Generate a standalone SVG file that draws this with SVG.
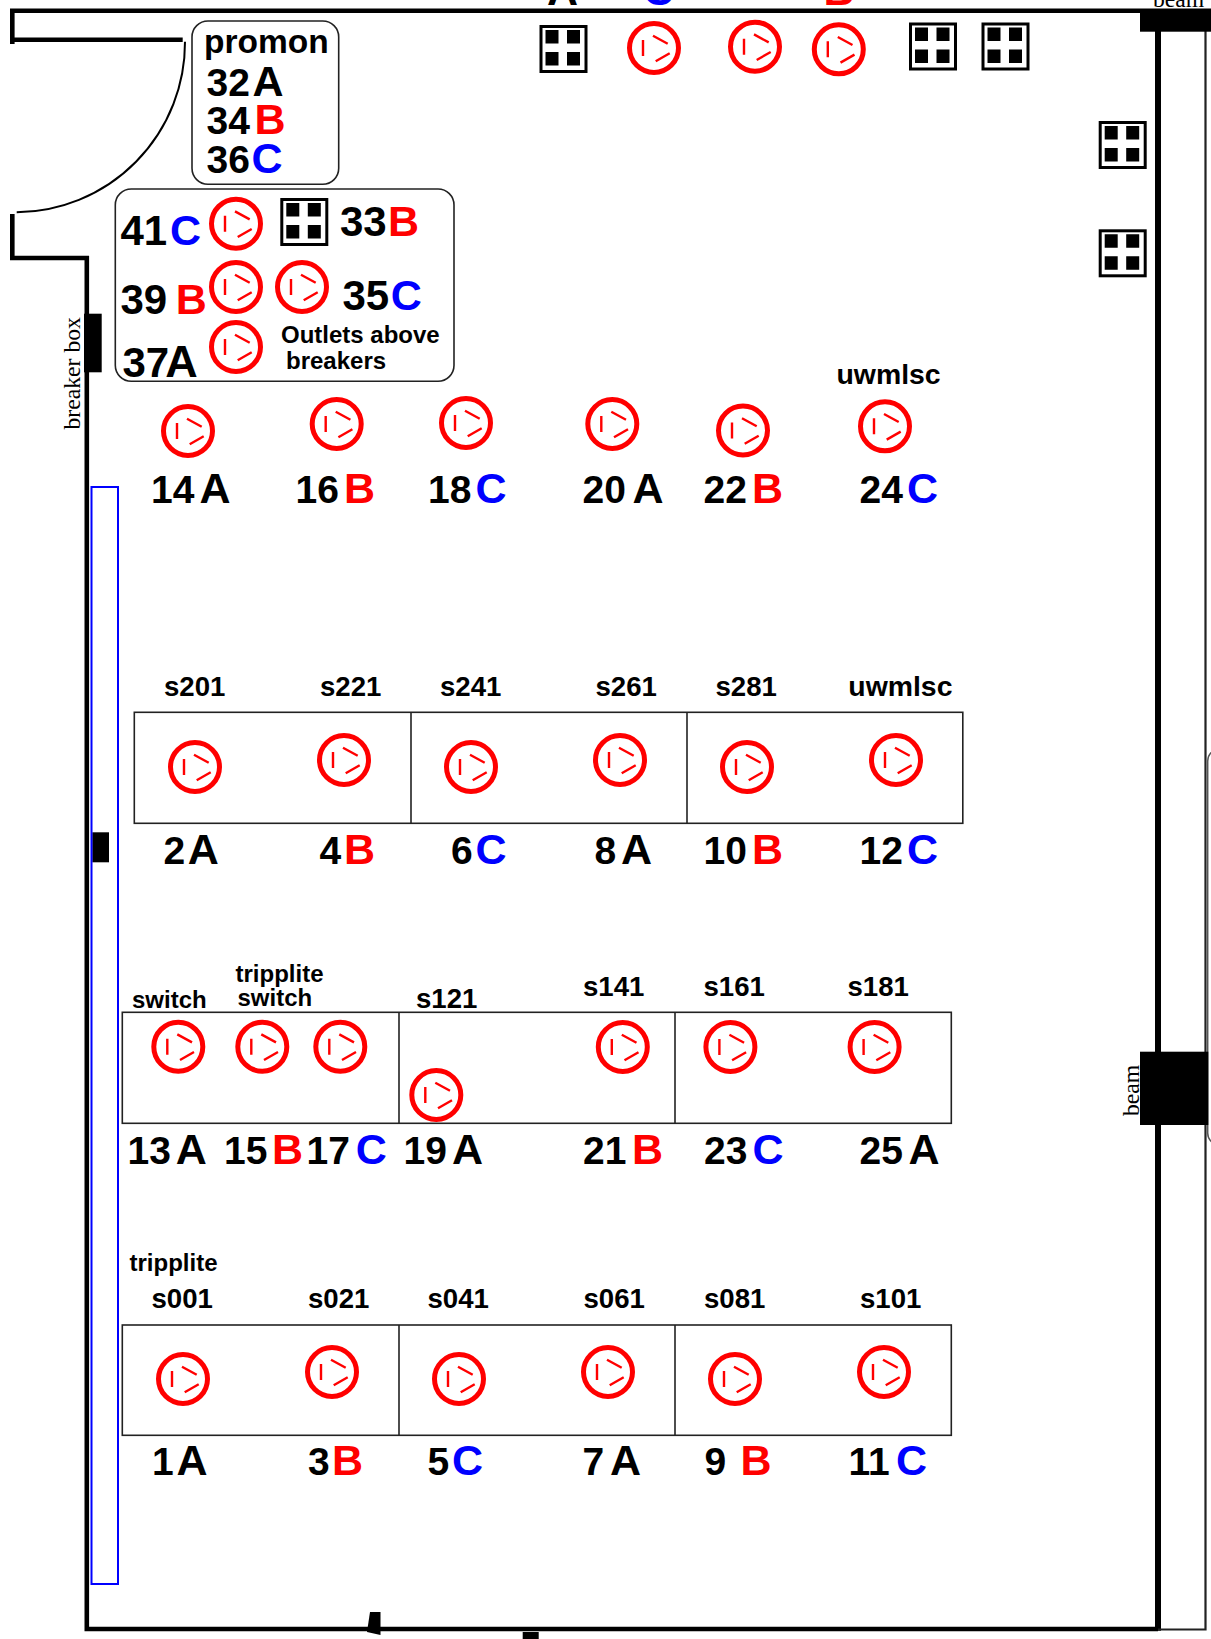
<svg xmlns="http://www.w3.org/2000/svg" width="1211" height="1639" viewBox="0 0 1211 1639">
<style>
text{font-family:"Liberation Sans",Arial,sans-serif;font-weight:bold;fill:#000}
.n{font-size:39px}
.m{font-size:42px}
.l{font-size:43px}
.s{font-size:27.6px}
.u{font-size:28.4px}
.t{font-size:24px}
.b{fill:#f00}
.c{fill:#00f}
.serif{font-family:"Liberation Serif","Times New Roman",serif;font-weight:normal;font-size:23.7px}
.wall{fill:none;stroke:#000;stroke-width:4.6}
.thin{fill:none;stroke:#222;stroke-width:1.6}
</style>
<defs>
<g id="o" fill="none" stroke="#f00">
<circle r="24.5" stroke-width="5" fill="#fff"/>
<path d="M-11-8V8M-1-12.3L13.7-4.3M1.7 13.3L15.7 5.3" stroke-width="2.4"/>
</g>
<g id="q">
<rect x="1.500" y="1.500" width="45" height="45" fill="#fff" stroke="#000" stroke-width="3"/>
<path d="M6 5h13v13.500H6zM27.500 5h13v13.500H27.500zM6 27h13v13.500H6zM27.500 27h13v13.500H27.500z" fill="#000"/>
</g>
</defs>
<rect width="1211" height="1639" fill="#fff"/>
<g id="walls">
<path class="wall" d="M12.300 44V10.800H1211"/>
<path class="wall" d="M14 39.700H182.700"/>
<path d="M185 41.700A170 170 0 0 1 16.700 212.300" fill="none" stroke="#000" stroke-width="2"/>
<path class="wall" d="M12.300 214V258H86.800V1629H1158"/>
<path d="M1158 31V1630.700" fill="none" stroke="#000" stroke-width="6"/>
<path d="M1205.500 30V1629.500H1158" fill="none" stroke="#222" stroke-width="2.200"/>
<rect x="1207.700" y="749" width="60" height="396" rx="12" fill="none" stroke="#555" stroke-width="1.500"/>
<rect x="1140" y="13" width="71" height="18.700" fill="#000"/>
<rect x="1140" y="1051.700" width="68.300" height="73.300" fill="#000"/>
<rect x="84" y="313.700" width="17.700" height="58.600" fill="#000"/>
<rect x="92.300" y="832.300" width="16.700" height="30" fill="#000"/>
<rect x="91.500" y="487" width="26.500" height="1097" fill="none" stroke="#00f" stroke-width="2"/>
<path d="M370 1612H380.500L380.500 1635L367 1632Z" fill="#000"/>
<rect x="522.700" y="1632" width="16" height="7" fill="#000"/>
<text class="serif" transform="translate(80 429.500) rotate(-90)">breaker box</text>
<text class="serif" transform="translate(1139 1116) rotate(-90)">beam</text>
<text class="serif" x="1153" y="7">beam</text>
</g>
<g id="tables" class="thin">
<rect x="134.300" y="712.300" width="828.500" height="111"/><path d="M411 712.300V823.300M687 712.300V823.300"/>
<rect x="122.300" y="1012.300" width="829" height="111"/><path d="M399 1012.300V1123.300M675 1012.300V1123.300"/>
<rect x="122.300" y="1325" width="829" height="110.300"/><path d="M399 1325V1435.300M675 1325V1435.300"/>
</g>
<g id="panels" class="thin">
<rect x="192" y="21" width="146.700" height="163.300" rx="16"/>
<rect x="115.300" y="189" width="338.700" height="192.300" rx="16"/>
</g>
<g id="quads">
<use href="#q" x="539.500" y="25"/><use href="#q" x="909" y="22.500"/><use href="#q" x="981.500" y="22.500"/>
<use href="#q" x="1098.700" y="121"/><use href="#q" x="1098.700" y="229.300"/><use href="#q" x="280.300" y="198"/>
</g>
<g id="top-row">
<use href="#o" x="654" y="48"/><use href="#o" x="755" y="46.700"/><use href="#o" x="838.800" y="49.300"/>
<text class="l" x="547" y="5">A</text><text class="l c" x="643" y="5">C</text><text class="l b" x="823.500" y="5">B</text>
</g>
<g id="promon">
<text x="204" y="53" style="font-size:33.500px">promon</text>
<text class="n" x="206.500" y="96">32</text><text class="l" x="252.500" y="96">A</text>
<text class="n" x="206.500" y="134.300">34</text><text class="l b" x="254.500" y="134.300">B</text>
<text class="n" x="206.500" y="173.300">36</text><text class="l c" x="251.500" y="173.300">C</text>
</g>
<g id="outlets-above">
<g id="o41"><use href="#o" x="236" y="223.700"/><text class="m" x="120.500" y="245">41</text><text class="l c" x="170" y="245">C</text></g>
<g id="o39"><use href="#o" x="236" y="287"/><text class="m" x="120.500" y="313.700">39</text><text class="l b" x="175.800" y="313.700">B</text></g>
<g id="o37"><use href="#o" x="236" y="347"/><text class="m" x="122.500" y="376.700">37</text><text style="font-size:45px" x="165.200" y="376.700">A</text></g>
<g id="o35"><use href="#o" x="302" y="287"/><text class="m" x="342.500" y="310">35</text><text class="l c" x="390.800" y="310">C</text></g>
<text class="m" id="o33" x="340" y="236">33</text><text class="l b" x="388" y="236">B</text>
<text class="t" x="281" y="343">Outlets above</text>
<text class="t" x="286" y="369">breakers</text>
</g>
<g id="row-24">
<g id="o14"><use href="#o" x="188" y="431"/><text class="n" x="151" y="503">14</text><text class="l" x="199.500" y="503">A</text></g>
<g id="o16"><use href="#o" x="336.700" y="424"/><text class="n" x="295.500" y="503">16</text><text class="l b" x="344" y="503">B</text></g>
<g id="o18"><use href="#o" x="466" y="423"/><text class="n" x="428" y="503">18</text><text class="l c" x="475.500" y="503">C</text></g>
<g id="o20"><use href="#o" x="612.300" y="424"/><text class="n" x="582.500" y="503">20</text><text class="l" x="632.500" y="503">A</text></g>
<g id="o22"><use href="#o" x="743" y="430.500"/><text class="n" x="703.500" y="503">22</text><text class="l b" x="752" y="503">B</text></g>
<g id="o24"><use href="#o" x="885" y="426.300"/><text class="n" x="859.500" y="503">24</text><text class="l c" x="907" y="503">C</text><text class="u" x="836.500" y="383.500">uwmlsc</text></g>
</g>
<g id="row-12">
<g id="o2"><use href="#o" x="195" y="767"/><text class="s" x="164" y="695.700">s201</text><text class="n" x="163.500" y="864">2</text><text class="l" x="187.800" y="864">A</text></g>
<g id="o4"><use href="#o" x="344" y="760"/><text class="s" x="320" y="695.700">s221</text><text class="n" x="319.500" y="864">4</text><text class="l b" x="344" y="864">B</text></g>
<g id="o6"><use href="#o" x="471" y="767"/><text class="s" x="440" y="695.700">s241</text><text class="n" x="451" y="864">6</text><text class="l c" x="475.500" y="864">C</text></g>
<g id="o8"><use href="#o" x="620" y="760"/><text class="s" x="595.500" y="695.700">s261</text><text class="n" x="594.500" y="864">8</text><text class="l" x="621" y="864">A</text></g>
<g id="o10"><use href="#o" x="747" y="767"/><text class="s" x="715.500" y="695.700">s281</text><text class="n" x="703.500" y="864">10</text><text class="l b" x="752" y="864">B</text></g>
<g id="o12"><use href="#o" x="896" y="760"/><text class="u" x="848.300" y="695.700">uwmlsc</text><text class="n" x="859.500" y="864">12</text><text class="l c" x="907" y="864">C</text></g>
</g>
<g id="row-13">
<g id="o13"><use href="#o" x="178.300" y="1046.700"/><text class="t" x="132" y="1008">switch</text><text class="n" x="127.500" y="1164">13</text><text class="l" x="175.700" y="1164">A</text></g>
<g id="o15"><use href="#o" x="262.300" y="1046.700"/><text class="t" x="235.500" y="982">tripplite</text><text class="t" x="237.500" y="1005.500">switch</text><text class="n" x="224" y="1164">15</text><text class="l b" x="272" y="1164">B</text></g>
<g id="o17"><use href="#o" x="340.300" y="1046.700"/><text class="n" x="306.500" y="1164">17</text><text class="l c" x="355.700" y="1164">C</text></g>
<g id="o19"><use href="#o" x="436.300" y="1095"/><text class="s" x="416" y="1008">s121</text><text class="n" x="403.500" y="1164">19</text><text class="l" x="452" y="1164">A</text></g>
<g id="o21"><use href="#o" x="622.800" y="1047"/><text class="s" x="583" y="996">s141</text><text class="n" x="583" y="1164">21</text><text class="l b" x="632" y="1164">B</text></g>
<g id="o23"><use href="#o" x="730.400" y="1047"/><text class="s" x="703.500" y="996">s161</text><text class="n" x="704" y="1164">23</text><text class="l c" x="752.500" y="1164">C</text></g>
<g id="o25"><use href="#o" x="874.600" y="1047"/><text class="s" x="847.500" y="996">s181</text><text class="n" x="859.500" y="1164">25</text><text class="l" x="908.500" y="1164">A</text></g>
</g>
<g id="row-1">
<g id="o1"><use href="#o" x="183" y="1379"/><text class="t" x="129.500" y="1270.500">tripplite</text><text class="s" x="151.500" y="1308">s001</text><text class="n" x="152" y="1475">1</text><text class="l" x="176.600" y="1475">A</text></g>
<g id="o3"><use href="#o" x="332" y="1372"/><text class="s" x="308" y="1308">s021</text><text class="n" x="308" y="1475">3</text><text class="l b" x="332" y="1475">B</text></g>
<g id="o5"><use href="#o" x="459" y="1379"/><text class="s" x="427.500" y="1308">s041</text><text class="n" x="427.500" y="1475">5</text><text class="l c" x="452" y="1475">C</text></g>
<g id="o7"><use href="#o" x="608" y="1372"/><text class="s" x="583.500" y="1308">s061</text><text class="n" x="582.500" y="1475">7</text><text class="l" x="610" y="1475">A</text></g>
<g id="o9"><use href="#o" x="735" y="1379"/><text class="s" x="704" y="1308">s081</text><text class="n" x="704.500" y="1475">9</text><text class="l b" x="740.500" y="1475">B</text></g>
<g id="o11"><use href="#o" x="884" y="1372"/><text class="s" x="860" y="1308">s101</text><text class="n" x="848.500" y="1475">11</text><text class="l c" x="896" y="1475">C</text></g>
</g>
</svg>
